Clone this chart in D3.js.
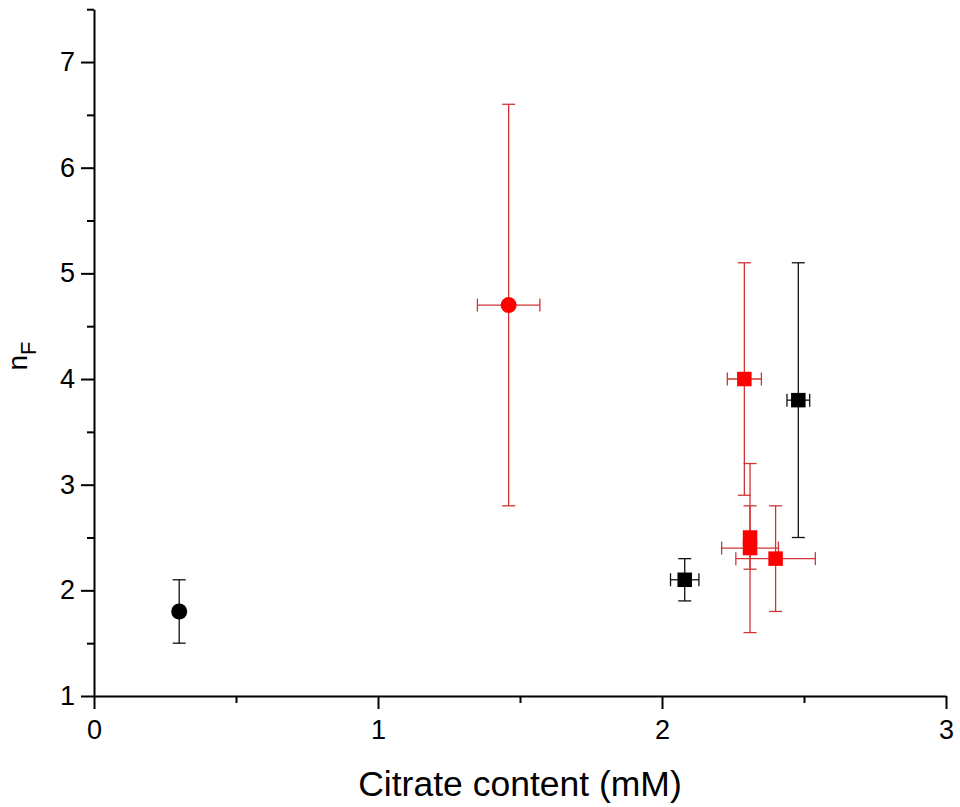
<!DOCTYPE html>
<html>
<head>
<meta charset="UTF-8">
<title>nF vs citrate content</title>
<style>
  body { margin: 0; background: #fff; }
  text { font-family: "Liberation Sans", Arial, sans-serif; }
</style>
</head>
<body>
<div id="chart"></div>
<script src="https://d3js.org/d3.v7.min.js"></script>
<script>
// series: black circle, red circle, black squares, red squares
var blackCircleX = [0.30], blackCircleY = [1.8], blackCircleYErr = [0.3], blackCircleXErr = [0];
var redCircleX = [1.46], redCircleY = [4.7], redCircleYErr = [1.9], redCircleXErr = [0.11];
var blackSquareX = [2.08, 2.48], blackSquareY = [2.1, 3.8], blackSquareYErr = [0.2, 1.3], blackSquareXErr = [0.05, 0.04];
var redSquareX = [2.29, 2.31, 2.31, 2.40], redSquareY = [4.0, 2.4, 2.5, 2.3];
var redSquareYErr = [1.1, 0.8, 0.3, 0.5], redSquareXErr = [0.06, 0.10, 0.02, 0.14];

var xTicks = [0, 1, 2, 3], xMinor = [0.5, 1.5, 2.5];
var yTicks = [1, 2, 3, 4, 5, 6, 7], yMinor = [1.5, 2.5, 3.5, 4.5, 5.5, 6.5, 7.5];

var width = 960, height = 807;
var svg = d3.select("#chart").append("svg")
    .attr("width", width)
    .attr("height", height);

var x = d3.scaleLinear().domain([0, 3]).range([94, 946]);
var y = d3.scaleLinear().domain([1, 7.5]).range([696, 9.2]);

function rows(xs, ys, xe, ye) {
  return xs.map(function(d, i) { return {x: d, y: ys[i], xe: xe[i], ye: ye[i]}; });
}

// minor ticks
svg.append("g").attr("transform", "translate(0,696)")
  .call(d3.axisBottom(x).tickValues(xMinor).tickSize(7).tickSizeOuter(0).tickFormat(""))
  .call(function(g) { g.select(".domain").remove(); g.selectAll("line").attr("stroke-width", 2); });
svg.append("g").attr("transform", "translate(94,0)")
  .call(d3.axisLeft(y).tickValues(yMinor).tickSize(7).tickSizeOuter(0).tickFormat(""))
  .call(function(g) { g.select(".domain").remove(); g.selectAll("line").attr("stroke-width", 2); });

// major axes
svg.append("g").attr("transform", "translate(0,696)")
  .call(d3.axisBottom(x).tickValues(xTicks).tickSize(13).tickSizeOuter(0).tickPadding(11).tickFormat(d3.format("d")))
  .call(function(g) {
    g.select(".domain").attr("stroke-width", 2);
    g.selectAll("line").attr("stroke-width", 2);
    g.selectAll("text").attr("font-size", 27).attr("fill", "#000").attr("font-family", "Liberation Sans, Arial, sans-serif");
  });
svg.append("g").attr("transform", "translate(94,0)")
  .call(d3.axisLeft(y).tickValues(yTicks).tickSize(13).tickSizeOuter(0).tickPadding(6).tickFormat(d3.format("d")))
  .call(function(g) {
    g.select(".domain").attr("stroke-width", 2);
    g.selectAll("line").attr("stroke-width", 2);
    g.selectAll("text").attr("font-size", 27).attr("fill", "#000").attr("font-family", "Liberation Sans, Arial, sans-serif");
  });

// axis titles
svg.append("text")
  .attr("x", 520).attr("y", 796)
  .attr("text-anchor", "middle")
  .attr("font-size", 35.5)
  .text("Citrate content (mM)");

var yl = svg.append("text")
  .attr("transform", "translate(27,356) rotate(-90)")
  .attr("text-anchor", "middle")
  .attr("font-size", 28);
yl.append("tspan").text("n");
yl.append("tspan").attr("font-size", 22).attr("dy", 9).text("F");

// error bars
var cap = 6.5;
function errorBars(data, color) {
  var g = svg.append("g").attr("stroke", color).attr("stroke-width", 1.3).attr("fill", "none");
  data.forEach(function(d) {
    g.append("line").attr("x1", x(d.x)).attr("x2", x(d.x)).attr("y1", y(d.y - d.ye)).attr("y2", y(d.y + d.ye));
    g.append("line").attr("x1", x(d.x) - cap).attr("x2", x(d.x) + cap).attr("y1", y(d.y + d.ye)).attr("y2", y(d.y + d.ye));
    g.append("line").attr("x1", x(d.x) - cap).attr("x2", x(d.x) + cap).attr("y1", y(d.y - d.ye)).attr("y2", y(d.y - d.ye));
    if (d.xe > 0) {
      g.append("line").attr("x1", x(d.x - d.xe)).attr("x2", x(d.x + d.xe)).attr("y1", y(d.y)).attr("y2", y(d.y));
      g.append("line").attr("x1", x(d.x - d.xe)).attr("x2", x(d.x - d.xe)).attr("y1", y(d.y) - cap).attr("y2", y(d.y) + cap);
      g.append("line").attr("x1", x(d.x + d.xe)).attr("x2", x(d.x + d.xe)).attr("y1", y(d.y) - cap).attr("y2", y(d.y) + cap);
    }
  });
}

var bc = rows(blackCircleX, blackCircleY, blackCircleXErr, blackCircleYErr);
var rc = rows(redCircleX, redCircleY, redCircleXErr, redCircleYErr);
var bs = rows(blackSquareX, blackSquareY, blackSquareXErr, blackSquareYErr);
var rs = rows(redSquareX, redSquareY, redSquareXErr, redSquareYErr);

errorBars(bc, "#111");
errorBars(bs, "#111");
errorBars(rc, "#d03535");
errorBars(rs, "#d03535");

// markers
var sq = 14.5;
svg.selectAll(".bc").data(bc).enter().append("circle")
  .attr("cx", function(d) { return x(d.x); }).attr("cy", function(d) { return y(d.y); })
  .attr("r", 8).attr("fill", "#000");
svg.selectAll(".rc").data(rc).enter().append("circle")
  .attr("cx", function(d) { return x(d.x); }).attr("cy", function(d) { return y(d.y); })
  .attr("r", 8).attr("fill", "#ff0000");
svg.selectAll(".bs").data(bs).enter().append("rect")
  .attr("x", function(d) { return x(d.x) - sq / 2; }).attr("y", function(d) { return y(d.y) - sq / 2; })
  .attr("width", sq).attr("height", sq).attr("fill", "#000");
svg.selectAll(".rs").data(rs).enter().append("rect")
  .attr("x", function(d) { return x(d.x) - sq / 2; }).attr("y", function(d) { return y(d.y) - sq / 2; })
  .attr("width", sq).attr("height", sq).attr("fill", "#ff0000");
</script>
</body>
</html>
